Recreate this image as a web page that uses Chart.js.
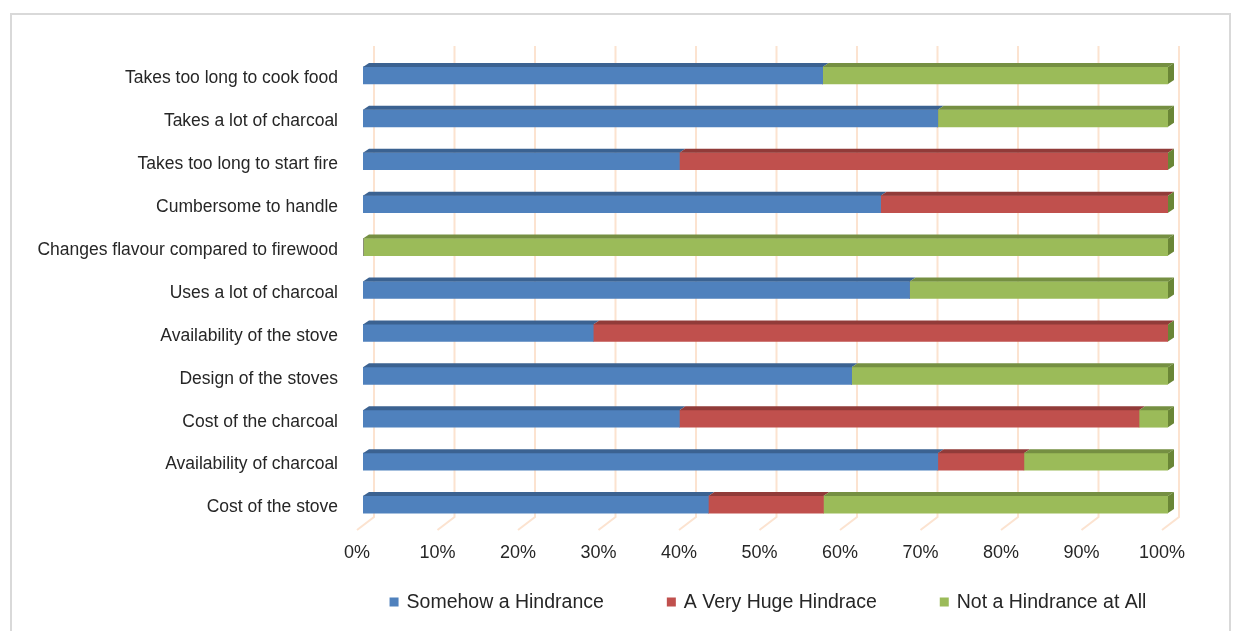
<!DOCTYPE html>
<html>
<head>
<meta charset="utf-8">
<script src="https://cdn.jsdelivr.net/npm/chart.js@4.4.1/dist/chart.umd.min.js"></script>
<style>
  html, body { margin: 0; padding: 0; background: #ffffff; }
  canvas { display: block; }
</style>
</head>
<body>
<canvas id="c" width="1234" height="631"></canvas>
<script>
// ---- Data ----
const categories = [
  'Takes too long to cook food',
  'Takes a lot of charcoal',
  'Takes too long to start fire',
  'Cumbersome to handle',
  'Changes flavour compared to firewood',
  'Uses a lot of charcoal',
  'Availability of the stove',
  'Design of the stoves',
  'Cost of the charcoal',
  'Availability of charcoal',
  'Cost of the stove'
];
const somehowHindrance = [57.1, 71.4, 39.3, 64.3, 0, 67.9, 28.6, 60.7, 39.3, 71.4, 42.9];
const veryHugeHindrance = [0, 0, 60.7, 35.7, 0, 0, 71.4, 0, 57.1, 10.7, 14.3];
const notHindrance = [42.9, 28.6, 0, 0, 100, 32.1, 0, 39.3, 3.6, 17.9, 42.8];
const seriesNames = ['Somehow a Hindrance', 'A Very Huge Hindrace', 'Not a Hindrance at All'];
const xTickValues = [0, 10, 20, 30, 40, 50, 60, 70, 80, 90, 100];

// ---- Styles ----
const frontColors = ['#4F81BD', '#C0504D', '#9BBB59'];
const topColors = ['#3B6291', '#913B39', '#758F42'];
const sideColor = '#6A8636';
const FONT = "'Liberation Sans', Arial, sans-serif";
const TEXT = '#262626';
const DX = 6, DY = -4;

const framePlugin = {
  id: 'frame',
  beforeDraw(chart) {
    const ctx = chart.ctx;
    ctx.save();
    ctx.fillStyle = '#ffffff';
    ctx.fillRect(0, 0, chart.width, chart.height);
    ctx.strokeStyle = '#d9d9d9';
    ctx.lineWidth = 2;
    ctx.strokeRect(11, 14, 1219, 640);
    ctx.restore();
  }
};

const gridPlugin = {
  id: 'grid3d',
  beforeDatasetsDraw(chart) {
    const ctx = chart.ctx;
    const xs = chart.scales.x;
    ctx.save();
    ctx.strokeStyle = '#FCE3D0';
    ctx.lineWidth = 2;
    xTickValues.forEach(v => {
      const px = xs.getPixelForValue(v);
      ctx.beginPath();
      ctx.moveTo(px + 11, 46);
      ctx.lineTo(px + 11, 517);
      ctx.lineTo(px - 6, 530);
      ctx.stroke();
    });
    ctx.restore();
  }
};

const bar3dPlugin = {
  id: 'bar3d',
  afterDatasetsDraw(chart) {
    const ctx = chart.ctx;
    ctx.save();
    const n = chart.data.datasets.length;
    for (let d = 0; d < n; d++) {
      const meta = chart.getDatasetMeta(d);
      meta.data.forEach(el => {
        const p = el.getProps(['x', 'y', 'base', 'height'], true);
        const x0 = Math.min(p.x, p.base), x1 = Math.max(p.x, p.base);
        const top = p.y - p.height / 2;
        if (x1 - x0 > 0.5) {
          ctx.fillStyle = topColors[d];
          ctx.beginPath();
          ctx.moveTo(x0, top);
          ctx.lineTo(x1, top);
          ctx.lineTo(x1 + DX, top + DY);
          ctx.lineTo(x0 + DX, top + DY);
          ctx.closePath();
          ctx.fill();
        }
      });
    }
    // side face at the end of each stacked bar
    const lastMeta = chart.getDatasetMeta(n - 1);
    lastMeta.data.forEach(el => {
      const p = el.getProps(['x', 'y', 'base', 'height'], true);
      const xe = Math.max(p.x, p.base);
      const top = p.y - p.height / 2, bot = p.y + p.height / 2;
      ctx.fillStyle = sideColor;
      ctx.beginPath();
      ctx.moveTo(xe, top);
      ctx.lineTo(xe + DX, top + DY);
      ctx.lineTo(xe + DX, bot + DY);
      ctx.lineTo(xe, bot);
      ctx.closePath();
      ctx.fill();
    });
    ctx.restore();
  }
};

const legendPlugin = {
  id: 'customLegend',
  afterDraw(chart) {
    const ctx = chart.ctx;
    ctx.save();
    ctx.font = "19.5px " + FONT;
    ctx.textBaseline = 'middle';
    ctx.textAlign = 'left';
    const box = 9, gapText = 8, gapItem = 63;
    const items = chart.data.datasets.map((ds, i) => ({
      label: ds.label, color: frontColors[i], w: ctx.measureText(ds.label).width
    }));
    let total = 0;
    items.forEach((it, i) => { total += box + gapText + it.w + (i < items.length - 1 ? gapItem : 0); });
    let x = 768 - total / 2;
    const cy = 602;
    items.forEach(it => {
      ctx.fillStyle = it.color;
      ctx.fillRect(x, cy - box / 2, box, box);
      ctx.fillStyle = TEXT;
      ctx.fillText(it.label, x + box + gapText, cy + 1);
      x += box + gapText + it.w + gapItem;
    });
    ctx.restore();
  }
};

const datasets = [somehowHindrance, veryHugeHindrance, notHindrance].map((vals, i) => ({
  label: seriesNames[i],
  data: vals,
  backgroundColor: frontColors[i],
  borderWidth: 0,
  barThickness: 17
}));

new Chart(document.getElementById('c'), {
  type: 'bar',
  data: { labels: categories, datasets },
  options: {
    indexAxis: 'y',
    responsive: false,
    animation: false,
    layout: { padding: { left: 0, right: 66, top: 54, bottom: 47 } },
    plugins: {
      legend: { display: false },
      tooltip: { enabled: false }
    },
    scales: {
      x: {
        stacked: true,
        min: 0, max: 100,
        afterFit(scale) { scale.height = 58; },
        afterBuildTicks(scale) { scale.ticks = xTickValues.map(v => ({ value: v })); },
        grid: { display: false, drawTicks: false },
        border: { display: false },
        ticks: {
          callback: v => v + '%',
          font: { family: FONT, size: 18 },
          color: TEXT,
          padding: 16,
          labelOffset: -6,
          maxRotation: 0,
          autoSkip: false
        }
      },
      y: {
        stacked: true,
        afterFit(scale) { scale.width = 363; },
        grid: { display: false, drawTicks: false },
        border: { display: false },
        ticks: {
          font: { family: FONT, size: 17.5 },
          color: TEXT,
          padding: 25,
          labelOffset: 3,
          autoSkip: false
        }
      }
    }
  },
  plugins: [framePlugin, gridPlugin, bar3dPlugin, legendPlugin]
});
</script>
</body>
</html>
